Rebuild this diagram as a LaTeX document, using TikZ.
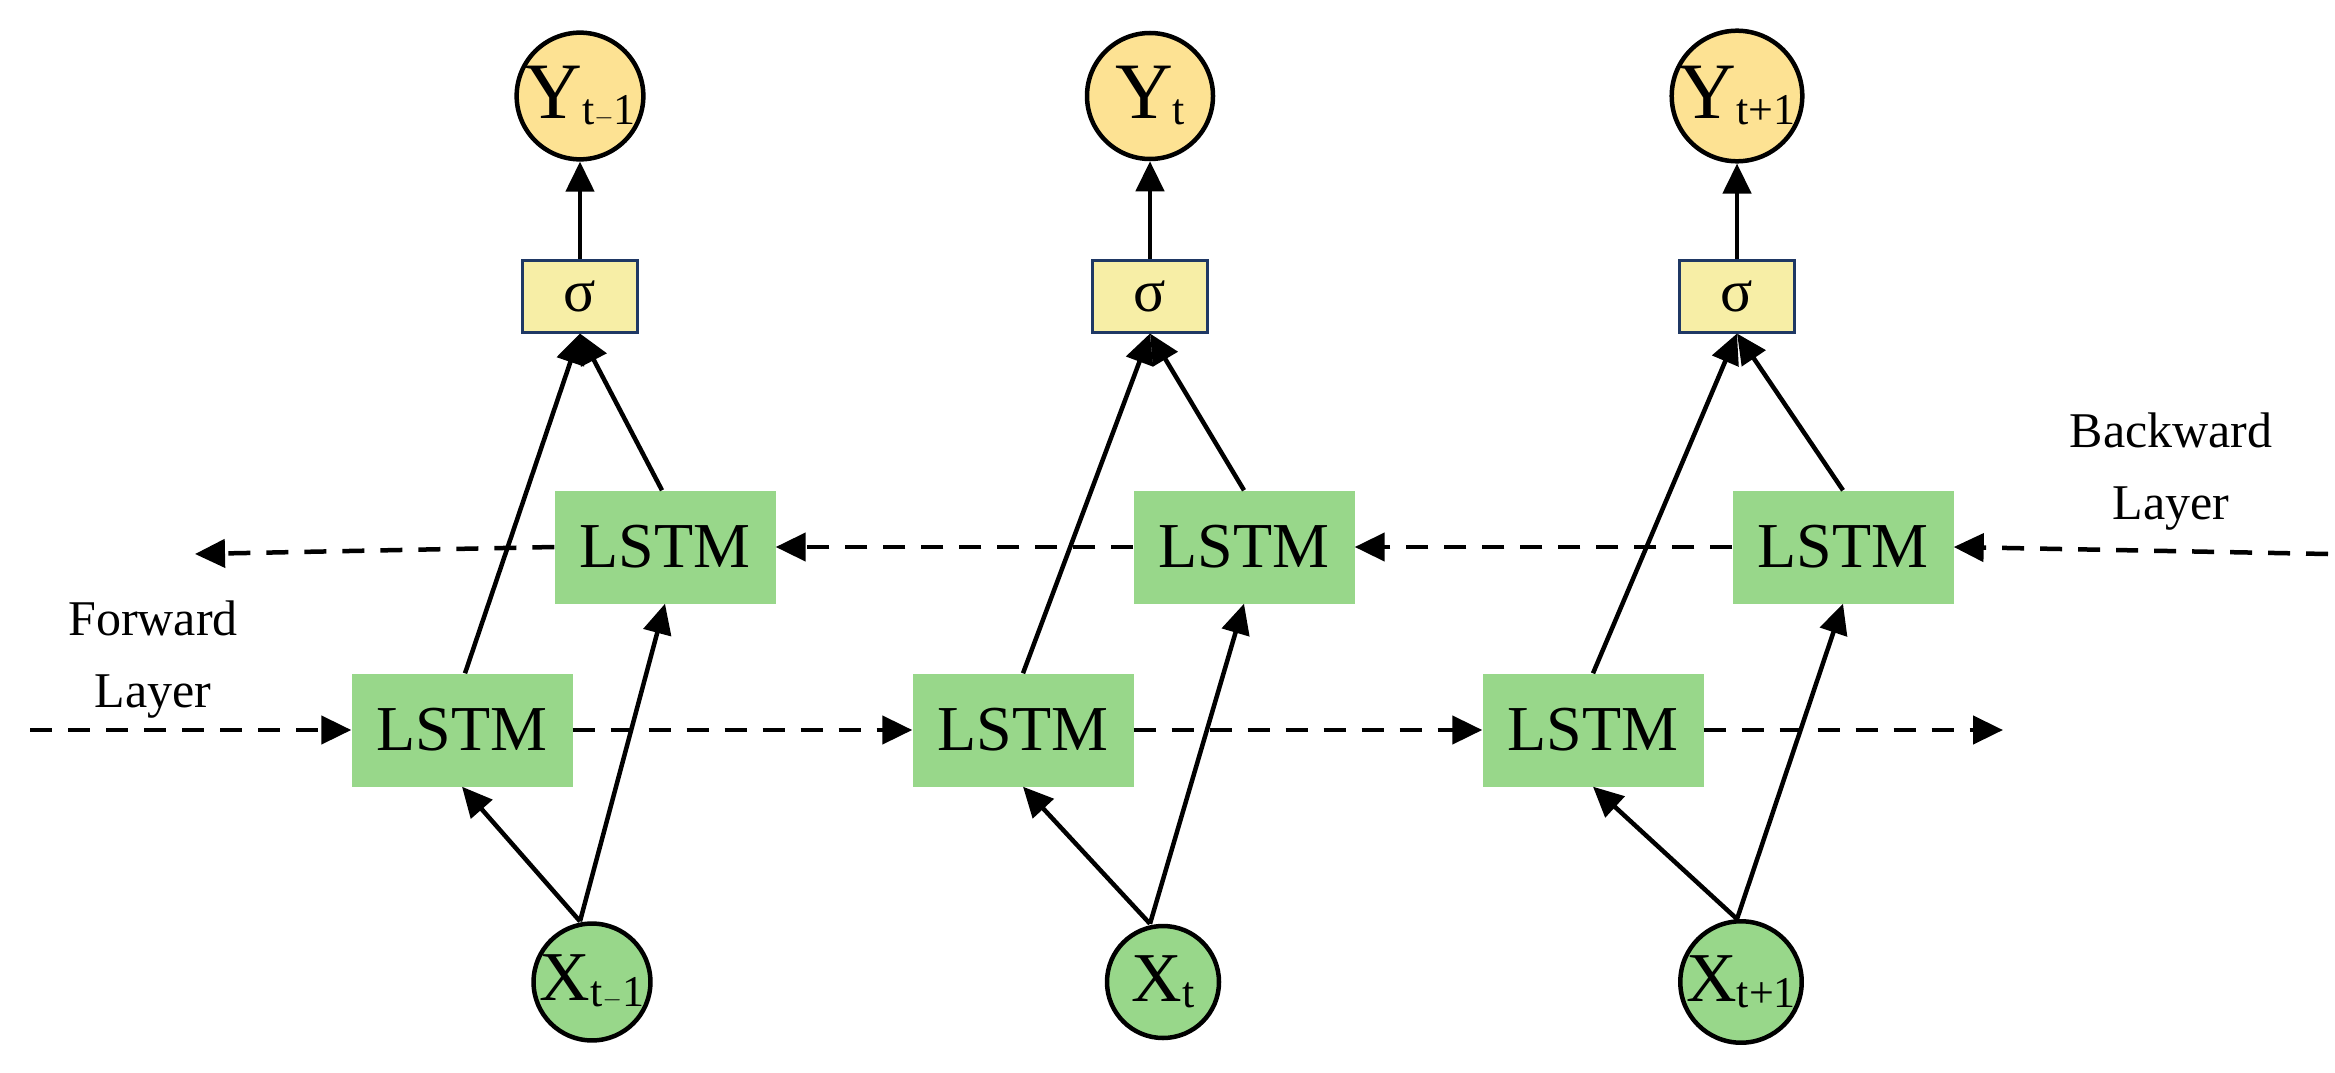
\documentclass[tikz,border=0pt]{standalone}
\usepackage{fontspec}
\setmainfont{Liberation Serif}
\usetikzlibrary{arrows.meta,shapes.geometric}
\definecolor{lg}{HTML}{98D78A}
\definecolor{ly}{HTML}{FDE293}
\definecolor{sy}{HTML}{F7EEA6}
\definecolor{sb}{HTML}{1F3864}
\begin{document}
\begin{tikzpicture}[x=1pt,y=-1pt,
  lstm/.style={fill=lg,minimum width=221pt,minimum height=113pt,inner sep=0pt,font=\fontsize{64}{70}\selectfont},
  yc/.style={circle,draw,line width=4.5pt,fill=ly,minimum size=126pt,inner sep=0pt,font=\fontsize{80}{84}\selectfont},
  xc/.style={circle,draw,line width=4.5pt,fill=lg,minimum size=112pt,inner sep=0pt,font=\fontsize{70}{72}\selectfont},
  sg/.style={draw=sb,line width=3pt,fill=sy,minimum width=115pt,minimum height=72pt,inner sep=0pt,font=\fontsize{60}{62}\selectfont},
  arr/.style={line width=4.5pt,-{Triangle[length=30pt,width=28pt]}},
  dar/.style={line width=4.5pt,dash pattern=on 22pt off 16pt,-{Triangle[length=30pt,width=28pt]}},
  lab/.style={font=\fontsize{50}{72}\selectfont,align=center}]
\useasboundingbox (0,0) rectangle (2335,1073);
\newcommand{\sbx}[1]{\raisebox{-6pt}{\fontsize{44}{46}\selectfont #1}}
% column 1
\node[yc] (y1) at (580,96) {Y\sbx{t$-$1}};
\node[sg] (s1) at (580,296) {σ};
\node[lstm] (u1) at (665,547) {LSTM};
\node[lstm] (l1) at (462,730) {LSTM};
\node[xc] (x1) at (592,982) {X\sbx{t$-$1}};
% column 2
\node[yc] (y2) at (1150,96) {Y\sbx{t}};
\node[sg] (s2) at (1150,296) {σ};
\node[lstm] (u2) at (1244,547) {LSTM};
\node[lstm] (l2) at (1023,730) {LSTM};
\node[xc] (x2) at (1163,982) {X\sbx{t}};
% column 3
\node[yc] (y3) at (1737,96) {Y\sbx{t+1}};
\node[sg] (s3) at (1737,296) {σ};
\node[lstm] (u3) at (1843,547) {LSTM};
\node[lstm] (l3) at (1593,730) {LSTM};
\node[xc] (x3) at (1741,982) {X\sbx{t+1}};
% labels
\node[lab] (fw) at (153,660) {Forward\\Layer};
\node[lab] (bw) at (2171,472) {Backward\\Layer};
\coordinate (fs) at (30,730);
\coordinate (fe) at (2003,730);
\coordinate (bs) at (2328,554);
\coordinate (be) at (195,554);
% dashed flows
\draw[dar] (fs) -- (l1.west);
\draw[dar] (l1.east) -- (l2.west);
\draw[dar] (l2.east) -- (l3.west);
\draw[dar] (l3.east) -- (fe);
\draw[dar] (bs) -- (u3.east);
\draw[dar] (u3.west) -- (u2.east);
\draw[dar] (u2.west) -- (u1.east);
\draw[dar] (u1.west) -- (be);
% solid arrows
\foreach \i/\lo/\up/\xo in {1/-115/82/-12,2/-127/94/-13,3/-144/106/-4}{
  \draw[arr] (s\i.north) -- (y\i.south);
  \draw[arr] ([xshift=\lo pt]s\i.south |- l\i.north) -- (s\i.south);
  \draw[arr] ([xshift=\up pt]s\i.south |- u\i.north) -- (s\i.south);
  \draw[arr] ([xshift=\xo pt]x\i.north) -- (l\i.south);
  \draw[arr] ([xshift=\xo pt]x\i.north) -- (u\i.south);
}
\end{tikzpicture}
\end{document}
